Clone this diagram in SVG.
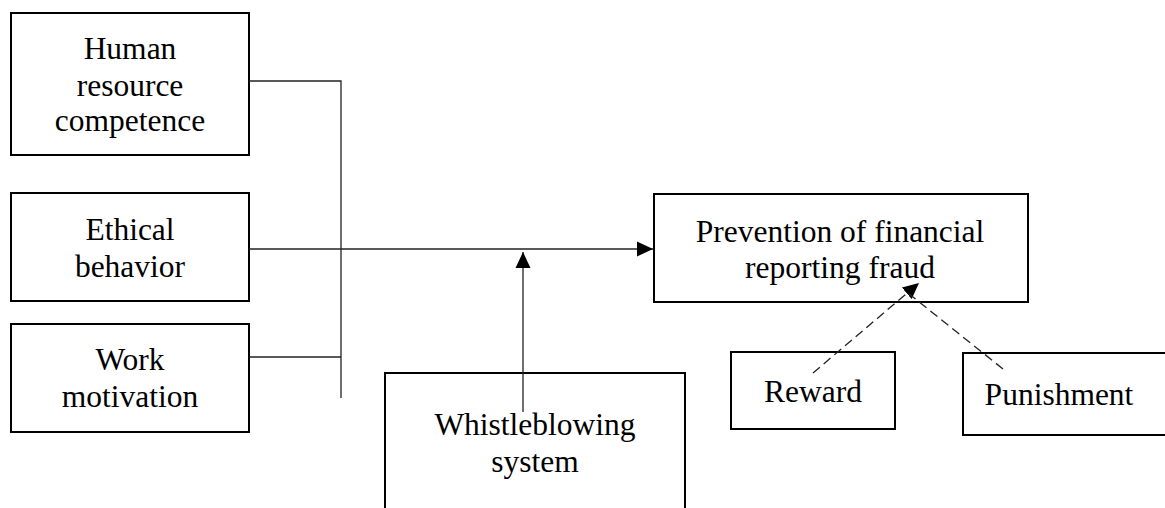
<svg xmlns="http://www.w3.org/2000/svg" width="1165" height="508" viewBox="0 0 1165 508">
<style>
.box{fill:none;stroke:#000;stroke-width:2}
.t{font-family:"Liberation Serif","Times New Roman",serif;font-size:31.5px;fill:#000;text-anchor:middle}
.c{fill:none;stroke:#222;stroke-width:1.3}
.d{fill:none;stroke:#222;stroke-width:1.3;stroke-dasharray:9 5}
</style>
<defs>
<marker id="ah" viewBox="0 0 16 16" refX="16" refY="8" markerWidth="16" markerHeight="16" markerUnits="userSpaceOnUse" orient="auto">
<path d="M0,0.5 L16,8 L0,15.5 Z" fill="#000"/>
</marker>
</defs>
<rect width="1165" height="508" fill="#fff"/>
<g id="node-hrc">
<rect class="box" x="11" y="13" width="238" height="142"/>
<text class="t" x="130" y="59">Human</text>
<text class="t" x="130" y="96">resource</text>
<text class="t" x="130" y="131">competence</text>
</g>
<g id="node-ethical">
<rect class="box" x="11" y="193" width="238" height="108"/>
<text class="t" x="130" y="240">Ethical</text>
<text class="t" x="130" y="277">behavior</text>
</g>
<g id="node-work">
<rect class="box" x="11" y="324" width="238" height="108"/>
<text class="t" x="130" y="370">Work</text>
<text class="t" x="130" y="407">motivation</text>
</g>
<g id="node-whistle">
<path class="box" d="M385,512 L385,373 L685,373 L685,512"/>
<text class="t" x="535" y="435">Whistleblowing</text>
<text class="t" x="535" y="472">system</text>
</g>
<g id="node-prevention">
<rect class="box" x="654" y="194" width="374" height="108"/>
<text class="t" x="840" y="242">Prevention of financial</text>
<text class="t" x="840" y="278">reporting fraud</text>
</g>
<g id="node-reward">
<rect class="box" x="731" y="352" width="164" height="77"/>
<text class="t" x="813" y="402">Reward</text>
</g>
<g id="node-punishment">
<path class="box" d="M1170,353 L963,353 L963,435 L1170,435"/>
<text class="t" x="1059" y="405">Punishment</text>
</g>
<g id="connectors">
<polyline class="c" points="249,81 341,81 341,398"/>
<line class="c" x1="249" y1="357" x2="341" y2="357"/>
<line class="c" x1="249" y1="249" x2="653" y2="249" marker-end="url(#ah)"/>
<line class="c" x1="523" y1="412" x2="523" y2="252" marker-end="url(#ah)"/>
<line class="d" x1="813" y1="373" x2="919" y2="283" marker-end="url(#ah)"/>
<line class="d" x1="1003" y1="369" x2="908" y2="293"/>
</g>
</svg>
